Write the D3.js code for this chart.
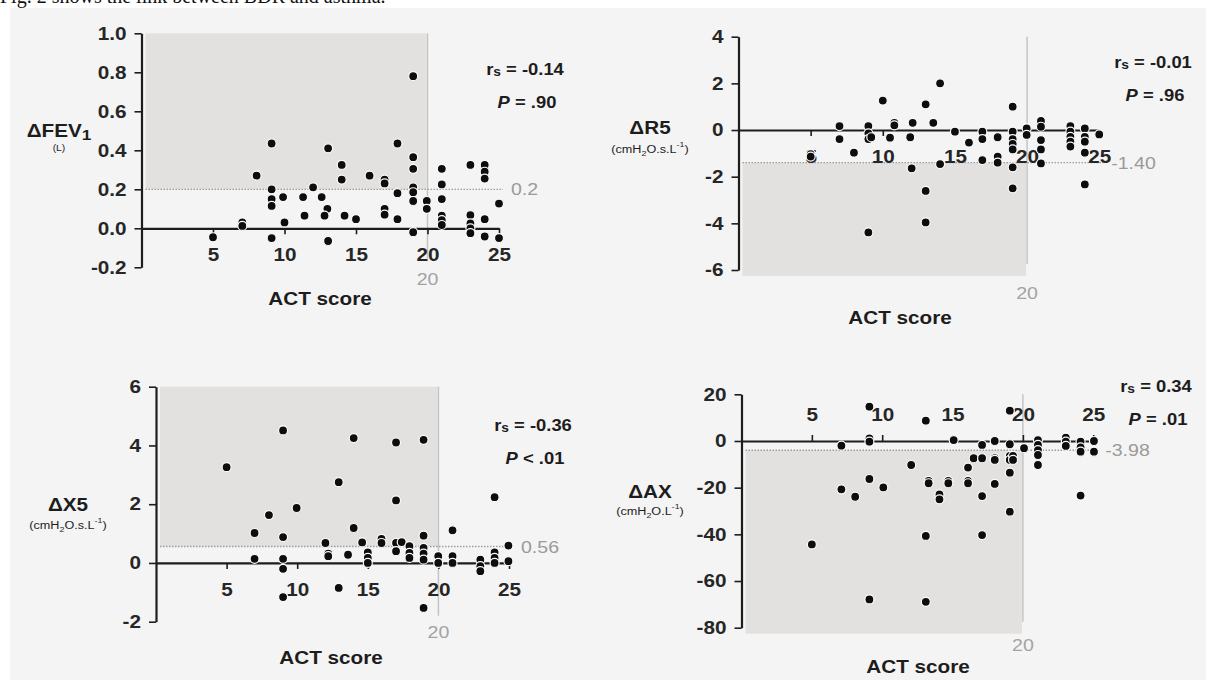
<!DOCTYPE html>
<html>
<head>
<meta charset="utf-8">
<script src="https://cdn.jsdelivr.net/npm/d3@7"></script>
<style>
  body { margin: 0; background: #fff; }
  svg { display: block; }
</style>
</head>
<body>
<div id="fig"></div>
<script>
// ACT score vs change after bronchodilator, four panels
const actTicks = [5, 10, 15, 20, 25];

// panel A : delta FEV1 (L)
const fev1Ticks = [-0.2, 0, 0.2, 0.4, 0.6, 0.8, 1.0];
const fev1Points = [
  [5.0, -0.046], [7.05, 0.03], [7.05, 0.012], [8.05, 0.27], [9.1, 0.435], [9.1, 0.2],
  [9.1, 0.15], [9.1, 0.115], [9.1, -0.05], [9.9, 0.16], [10.0, 0.03], [11.3, 0.16],
  [11.4, 0.065], [12.0, 0.21], [12.6, 0.16], [13.0, 0.1], [12.8, 0.065], [13.05, 0.41],
  [13.05, -0.065], [14.0, 0.325], [14.0, 0.25], [14.2, 0.065], [15.0, 0.047], [15.95, 0.27],
  [17.0, 0.25], [17.0, 0.23], [17.0, 0.1], [17.0, 0.07], [17.9, 0.435], [17.9, 0.18],
  [17.9, 0.047], [19.0, 0.78], [19.0, 0.365], [19.0, 0.305], [19.0, 0.21], [19.0, 0.185],
  [19.0, 0.14], [19.0, -0.02], [19.95, 0.14], [19.95, 0.1], [21, 0.305], [21, 0.225],
  [21, 0.15], [21, 0.065], [21, 0.042], [21, 0.017], [23, 0.325], [23, 0.068], [23, 0.025],
  [23, 0.0], [23, -0.025], [24, 0.325], [24, 0.29], [24, 0.255], [24, 0.047], [24, -0.042],
  [25, 0.127], [25, -0.05]
];

// panel B : delta R5
const r5Ticks = [-6, -4, -2, 0, 2, 4];
const r5Points = [
  [5.0, -1.03], [5.0, -1.14], [7.0, 0.17], [7.0, -0.39], [8.0, -0.97], [9.0, 0.17],
  [9.0, -0.14], [9.0, -0.39], [9.0, -4.39], [9.2, -0.31], [10.0, 1.26], [10.5, -0.33],
  [10.8, 0.31], [10.8, 0.2], [11.9, -0.31], [12.07, 0.31], [12.0, -1.64], [12.97, 1.1],
  [12.97, -2.61], [12.97, -3.96], [13.5, 0.31], [13.97, 2.0], [13.97, -1.46], [15.0, -0.07],
  [15.97, -0.54], [16.9, -0.07], [16.9, -0.39], [16.9, -1.29], [17.96, -0.31], [17.96, -1.14],
  [17.96, -1.4], [19.0, 1.0], [19.0, -0.07], [19.0, -0.39], [19.0, -0.6], [19.0, -0.83],
  [19.0, -1.6], [19.0, -2.5], [19.97, 0.07], [19.97, -0.21], [20.96, 0.39], [20.96, 0.14],
  [20.96, -0.43], [20.96, -0.83], [20.96, -1.43], [23, 0.17], [23, -0.07], [23, -0.29],
  [23, -0.5], [23, -0.71], [24, 0.07], [24, -0.29], [24, -0.5], [24, -0.97], [24, -2.33],
  [25, -0.19]
];

// panel C : delta X5
const x5Ticks = [-2, 0, 2, 4, 6];
const x5Points = [
  [5.0, 3.26], [6.98, 1.02], [6.98, 0.14], [8.0, 1.63], [9.0, 4.51], [9.0, 0.88],
  [9.0, 0.14], [9.0, -0.2], [9.0, -1.16], [9.96, 1.87], [12.0, 0.68], [12.2, 0.32],
  [12.2, 0.23], [12.94, 2.75], [12.94, -0.85], [13.6, 0.28], [14.0, 4.25], [14.0, 1.19],
  [14.6, 0.7], [15.0, 0.36], [15.0, 0.17], [15.0, 0.0], [15.97, 0.82], [15.97, 0.68],
  [17.0, 4.1], [17.0, 2.13], [17.0, 0.68], [17.0, 0.4], [17.4, 0.71], [17.95, 0.57],
  [17.95, 0.34], [17.95, 0.17], [18.95, 4.19], [18.95, 0.93], [18.95, 0.51], [18.95, 0.32],
  [18.95, 0.11], [18.95, -1.53], [19.99, 0.23], [19.99, 0.0], [21.0, 1.11], [21.0, 0.23],
  [21.0, 0.0], [22.97, 0.11], [22.97, -0.11], [22.97, -0.28], [23.98, 2.24], [23.98, 0.36],
  [23.98, 0.17], [23.98, 0.0], [24.96, 0.59], [24.96, 0.06]
];

// panel D : delta AX
const axTicks = [-80, -60, -40, -20, 0, 20];
const axPoints = [
  [5.0, -44.3], [7.1, -2], [7.1, -20.7], [8.08, -23.9], [9.09, 14.7], [9.09, 1.1],
  [9.09, -0.3], [9.09, -16.3], [9.09, -67.9], [10.08, -19.9], [12.06, -10.3], [13.1, 8.7],
  [13.3, -17.1], [13.3, -18.1], [13.1, -40.7], [13.1, -68.9], [14.07, -22.9], [14.07, -25],
  [14.7, -17.1], [14.7, -18.1], [15.08, 0.4], [16.1, -11.4], [16.1, -17.1], [16.1, -18.1],
  [16.5, -7.4], [17.1, -1.7], [17.1, -7.4], [17.1, -23.6], [17.1, -40.3], [18.0, 0],
  [18.0, -7.4], [18.0, -8.1], [18.0, -18.4], [19.07, 13], [19.07, -1.4], [19.07, -6.4],
  [19.07, -8.1], [19.07, -13.6], [19.07, -30.3], [19.3, -6.4], [19.3, -8.1], [20.08, -3.1],
  [21.07, 0.4], [21.07, -1.7], [21.07, -3.9], [21.07, -6], [21.07, -10.3], [23.05, 1.4],
  [23.05, -0.3], [23.05, -2.1], [24.1, -0.3], [24.1, -2.7], [24.1, -4.6], [24.1, -23.4],
  [25.05, 0], [25.05, -4.6]
];

const cutoffs = [0.2, -1.40, 0.56, -3.98];
const cutoffLabels = ["0.2", "-1.40", "0.56", "-3.98"];
const rsLabels = ["-0.14", "-0.01", "-0.36", "0.34"];
const pLabels = ["= .90", "= .96", "< .01", "= .01"];

const W = 1206, H = 680, SX = 1.15;
const ink = "#1d1d1d", grey = "#9a9a9a";

const svg = d3.select("#fig").append("svg").attr("width", W).attr("height", H);

// figure background and the cut off sentence above it
svg.append("rect").attr("x", 10).attr("y", 8).attr("width", W - 10).attr("height", H - 8)
  .attr("fill", "#f4f4f4");
svg.append("text").attr("x", 0).attr("y", 3)
  .style("font-family", "'Liberation Serif', serif").style("font-size", "20px")
  .attr("fill", "#111").text("Fig. 2 shows the link between BDR and asthma.");

function txt(g, x, y, size, opts) {
  opts = opts || {};
  return g.append("text")
    .attr("transform", `translate(${x},${y}) scale(${SX},1)`)
    .attr("text-anchor", opts.anchor || "middle")
    .attr("dominant-baseline", "central")
    .style("font-family", "'Liberation Sans', Arial, sans-serif")
    .style("font-size", size + "px")
    .style("font-weight", opts.weight || "bold")
    .attr("fill", opts.color || ink);
}

function panel(cfg) {
  const g = svg.append("g");
  const x = d3.scaleLinear().domain([0, 25]).range([cfg.x0, cfg.x0 + 25 * cfg.ppu]);
  const y = d3.scaleLinear().domain(d3.extent(cfg.yTicks)).range([cfg.yBot, cfg.yTop]);
  const yMin = d3.min(cfg.yTicks), yMax = d3.max(cfg.yTicks);

  // shaded zone: ACT < 20 and change beyond the cut off
  const s0 = cfg.shadeUp ? cfg.cut : yMin, s1 = cfg.shadeUp ? yMax : cfg.cut;
  g.append("rect")
    .attr("x", cfg.x0 + 4).attr("y", y(s1))
    .attr("width", x(20) - cfg.x0 - 5).attr("height", y(s0) - y(s1) + (cfg.shadeUp ? 0 : 6))
    .attr("fill", "#e3e1df");

  // vertical line at ACT 20
  g.append("line")
    .attr("x1", x(20)).attr("x2", x(20)).attr("y1", cfg.yTop).attr("y2", cfg.yBot - 6)
    .attr("stroke", "#c4c4c4").attr("stroke-width", 1.5);
  txt(g, x(20), cfg.y20, 17, { weight: "normal", color: "#a3a3a3" }).text("20");

  // cut off line
  g.append("line")
    .attr("x1", cfg.x0 + 4).attr("x2", x(25) + 4).attr("y1", y(cfg.cut)).attr("y2", y(cfg.cut))
    .attr("stroke", "#9c9c9c").attr("stroke-width", 1.3).attr("stroke-dasharray", "1.5,1.5");
  txt(g, x(25) + 12, y(cfg.cut), 17, { anchor: "start", weight: "normal", color: grey })
    .text(cfg.cutLabel);

  // y axis
  const ya = g.append("g").attr("transform", `translate(${cfg.x0},0)`)
    .call(d3.axisLeft(y).tickValues(cfg.yTicks).tickSize(7).tickSizeOuter(0).tickFormat(cfg.fmt));
  // x axis along zero
  const xAxis = cfg.labelsAbove ? d3.axisTop(x) : d3.axisBottom(x);
  const xa = g.append("g").attr("transform", `translate(0,${y(0)})`)
    .call(xAxis.tickValues(actTicks).tickSize(6).tickSizeOuter(0).tickPadding(14));

  [ya, xa].forEach(a => {
    a.select(".domain").attr("stroke", ink).attr("stroke-width", 2.2);
    a.selectAll(".tick line").attr("stroke", ink).attr("stroke-width", 1.6);
    a.selectAll(".tick text")
      .style("font-family", "'Liberation Sans', Arial, sans-serif")
      .style("font-size", "18px").style("font-weight", "bold").attr("fill", "#262626");
  });
  ya.selectAll(".tick text").attr("x", -15 / SX).attr("transform", `scale(${SX},1)`);
  xa.selectAll(".tick text").attr("transform", `scale(${SX},1)`);

  // points
  g.append("g").selectAll("circle")
    .data(cfg.points)
    .join("circle")
    .attr("cx", d => x(d[0]))
    .attr("cy", d => y(d[1]))
    .attr("r", 4.5)
    .attr("fill", "#0d0d0d")
    .attr("stroke", "#fbfbfb").attr("stroke-width", 1.2);

  // axis titles
  txt(g, cfg.actX, cfg.actY, 18).text("ACT score");
  const yl = txt(g, cfg.ylX, cfg.ylY, 18);
  cfg.yName(yl);
  const yu = txt(g, cfg.ylX, cfg.yuY, cfg.unitSize, { weight: "normal" });
  cfg.yUnit(yu);

  // statistics
  const rs = txt(g, cfg.stX, cfg.stY, 16);
  rs.append("tspan").text("r");
  rs.append("tspan").attr("baseline-shift", "-30%").style("font-size", "12px").text("s");
  rs.append("tspan").text(" = " + cfg.rs);
  const p = txt(g, cfg.stX + 2, cfg.stY + 33, 16);
  p.append("tspan").style("font-style", "italic").text("P");
  p.append("tspan").text(" " + cfg.p);
}

function unitWith(sel, tail) {
  sel.append("tspan").text("(cmH");
  sel.append("tspan").attr("baseline-shift", "sub").style("font-size", "0.7em").text("2");
  sel.append("tspan").text(tail);
  sel.append("tspan").attr("baseline-shift", "super").style("font-size", "0.7em").text("-1");
  sel.append("tspan").text(")");
}

panel({
  points: fev1Points, yTicks: fev1Ticks, fmt: d => d.toFixed(1),
  cut: cutoffs[0], cutLabel: cutoffLabels[0], shadeUp: true,
  x0: 141.5, ppu: 14.3, yTop: 33.3, yBot: 267.3, y20: 279,
  actX: 320, actY: 299, stX: 525, stY: 69, rs: rsLabels[0], p: pLabels[0],
  ylX: 59, ylY: 131, yuY: 148, unitSize: 9,
  yName: s => { s.append("tspan").text("ΔFEV"); s.append("tspan").attr("baseline-shift", "-25%").style("font-size", "15px").text("1"); },
  yUnit: s => s.text("(L)")
});

panel({
  points: r5Points, yTicks: r5Ticks, fmt: d => String(d),
  cut: cutoffs[1], cutLabel: cutoffLabels[1], shadeUp: false,
  x0: 738.5, ppu: 14.43, yTop: 36.7, yBot: 270, y20: 293,
  actX: 900, actY: 318, stX: 1153, stY: 62, rs: rsLabels[1], p: pLabels[1],
  ylX: 650, ylY: 128, yuY: 149, unitSize: 11,
  yName: s => s.text("ΔR5"),
  yUnit: s => unitWith(s, "O.s.L")
});

panel({
  points: x5Points, yTicks: x5Ticks, fmt: d => String(d),
  cut: cutoffs[2], cutLabel: cutoffLabels[2], shadeUp: true,
  x0: 156, ppu: 14.12, yTop: 386.7, yBot: 621.7, y20: 632,
  actX: 331, actY: 658, stX: 533, stY: 425, rs: rsLabels[2], p: pLabels[2],
  ylX: 68, ylY: 505, yuY: 525, unitSize: 11,
  yName: s => s.text("ΔX5"),
  yUnit: s => unitWith(s, "O.s.L")
});

panel({
  points: axPoints, yTicks: axTicks, fmt: d => String(d),
  cut: cutoffs[3], cutLabel: cutoffLabels[3], shadeUp: false, labelsAbove: true,
  x0: 741.5, ppu: 14.07, yTop: 394.3, yBot: 627.7, y20: 645,
  actX: 918, actY: 667, stX: 1156, stY: 386, rs: rsLabels[3], p: pLabels[3],
  ylX: 650, ylY: 492, yuY: 511, unitSize: 11,
  yName: s => s.text("ΔAX"),
  yUnit: s => unitWith(s, "O.L")
});
</script>
</body>
</html>
